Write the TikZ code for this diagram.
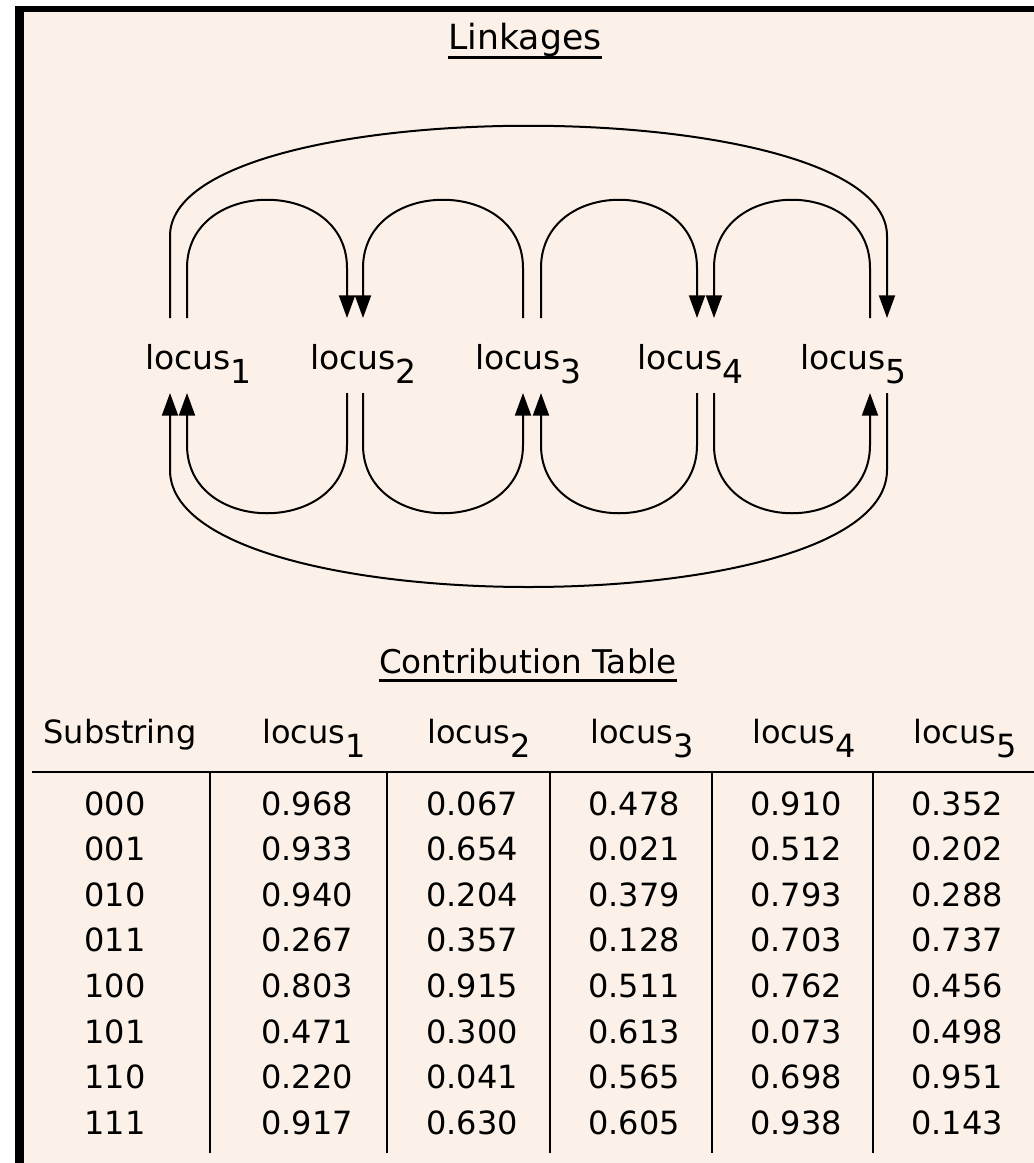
\documentclass[tikz,border=0pt]{standalone}
\usepackage{fontspec}
\setmainfont{DejaVu Sans}
\usetikzlibrary{arrows.meta}
\definecolor{paper}{RGB}{252,241,232}
\newcommand{\locus}[1]{locus\raisebox{-10.5pt}{#1}}

\begin{document}
\begin{tikzpicture}[x=0.75pt, y=-0.75pt,
		link/.style={line width=1.5pt, -{Triangle[length=17pt,width=12pt]}},
		bare/.style={line width=1.5pt},
		loclabel/.style={inner sep=0pt, anchor=base west, font=\fontsize{24.75}{28}\selectfont},
		cell/.style={inner sep=0pt, anchor=base, font=\fontsize{24}{28}\selectfont},
		heading/.style={inner sep=0pt, anchor=base},
		uline/.style={line width=2.25pt},
		rule/.style={line width=2pt}]
	\useasboundingbox (0,0) rectangle (1034,1163);
	\fill[paper] (15,6) rectangle (1034,1163);
	\fill[black] (15,6) rectangle (1034,12);
	\fill[black] (15,6) rectangle (24,1163);
	
	\node[heading, font=\fontsize{26}{30}\selectfont] (lk) at (525,50) {Linkages};
	\draw[uline] ([yshift=-6pt]lk.base west) -- ([yshift=-6pt]lk.base east);
	
	\node[loclabel] (l1) at (145,369) {\locus{1}};
	\node[loclabel] (l2) at (310,369) {\locus{2}};
	\node[loclabel] (l3) at (475,369) {\locus{3}};
	\node[loclabel] (l4) at (637,369) {\locus{4}};
	\node[loclabel] (l5) at (800,369) {\locus{5}};
	
	\coordinate (hi) at (0,268);
	\coordinate (lo) at (0,445);
	\coordinate (top) at (0,236);
	\coordinate (bot) at (0,470);
	
	\coordinate (A1) at (170,318);
	\coordinate (B1) at (187,318);
	\coordinate (A2) at (347,318);
	\coordinate (B2) at (363,318);
	\coordinate (A3) at (523,318);
	\coordinate (B3) at (541,318);
	\coordinate (A4) at (697,318);
	\coordinate (B4) at (714,318);
	\coordinate (A5) at (870,318);
	\coordinate (B5) at (887,318);
	
	\coordinate (C1) at (170,393);
	\coordinate (D1) at (187,393);
	\coordinate (C2) at (347,393);
	\coordinate (D2) at (363,393);
	\coordinate (C3) at (523,393);
	\coordinate (D3) at (541,393);
	\coordinate (C4) at (697,393);
	\coordinate (D4) at (714,393);
	\coordinate (C5) at (870,393);
	\coordinate (D5) at (887,393);
	
	\foreach \s/\e in {B1/A2, A3/B2, B3/A4, A5/B4}
		\draw[link] (\s) -- (\s |- hi) .. controls +(0,-91) and +(0,-91) .. (\e |- hi) -- (\e);
	\draw[link] (A1) -- (A1 |- top) .. controls +(0,-147) and +(0,-147) .. (B5 |- top) -- (B5);
	
	\foreach \s/\e in {C2/D1, D2/C3, C4/D3, D4/C5}
		\draw[link] (\s) -- (\s |- lo) .. controls +(0,91) and +(0,91) .. (\e |- lo) -- (\e);
	\draw[link] (D5) -- (D5 |- bot) .. controls +(0,156) and +(0,156) .. (C1 |- bot) -- (C1);
	
	\node[heading, font=\fontsize{24.5}{28}\selectfont] (ct) at (528,673) {Contribution Table};
	\draw[uline] ([yshift=-5.25pt]ct.base west) -- ([yshift=-5.25pt]ct.base east);
	
	\node[cell] (sub) at (120,743) {Substring};
	\foreach \x [count=\i] in {262,427,590,752,913}
		\node[cell, anchor=base west] (h\i) at (\x,743) {\locus{\i}};
	
	\draw[rule] (32,772) -- (1034,772);
	\foreach \x in {210,387,550,712,873}
		\draw[rule] (\x,772) -- (\x,1153);
	
	\foreach \bits/\va/\vb/\vc/\vd/\ve [count=\r] in {
			000/0.968/0.067/0.478/0.910/0.352,
			001/0.933/0.654/0.021/0.512/0.202,
			010/0.940/0.204/0.379/0.793/0.288,
			011/0.267/0.357/0.128/0.703/0.737,
			100/0.803/0.915/0.511/0.762/0.456,
			101/0.471/0.300/0.613/0.073/0.498,
			110/0.220/0.041/0.565/0.698/0.951,
			111/0.917/0.630/0.605/0.938/0.143} {
		\node[cell] (s\r) at (115,769.4+45.6*\r) {\bits};
		\foreach \val/\x [count=\k] in {\va/307,\vb/472,\vc/634,\vd/796,\ve/957}
			\node[cell] (v\r-\k) at (\x,769.4+45.6*\r) {\val};
	}
\end{tikzpicture}
\end{document}
